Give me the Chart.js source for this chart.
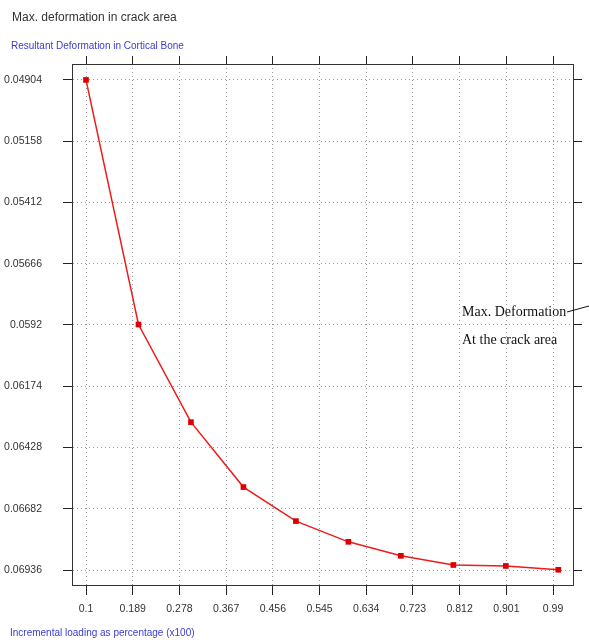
<!DOCTYPE html>
<html>
<head>
<meta charset="utf-8">
<script src="https://cdn.jsdelivr.net/npm/chart.js@4"></script>
<style>
  html, body { margin: 0; padding: 0; background: #fff; }
  #chart { display: block; }
</style>
</head>
<body>
<canvas id="chart" width="589" height="642"></canvas>
<script>
// loading steps (x) and max deformation in the crack area (y)
const loading = [0.1, 0.2, 0.3, 0.4, 0.5, 0.6, 0.7, 0.8, 0.9, 1.0];
const deformation = [0.04904, 0.05918, 0.06323, 0.06592, 0.06733, 0.06819, 0.06877, 0.06915, 0.06919, 0.06935];

// axis ticks as printed on the original
const xTicks = [0.1, 0.189, 0.278, 0.367, 0.456, 0.545, 0.634, 0.723, 0.812, 0.901, 0.99];
const xLabels = ["0.1", "0.189", "0.278", "0.367", "0.456", "0.545", "0.634", "0.723", "0.812", "0.901", "0.99"];
const yTicks = [0.04904, 0.05158, 0.05412, 0.05666, 0.0592, 0.06174, 0.06428, 0.06682, 0.06936];
const yLabels = ["0.04904", "0.05158", "0.05412", "0.05666", "0.0592", "0.06174", "0.06428", "0.06682", "0.06936"];

const narrow = '"Liberation Sans Narrow", "Arial Narrow", "Liberation Sans", Arial, sans-serif';

//force the same ticks on every axis
function setTicks(values) {
  return (scale) => {
    scale.ticks = values.map((v) => ({ value: v }));
  };
}

//fixed axis sizes so the plot box lands where the original has it
function fixWidth(w) {
  return (scale) => { scale.width = w; };
}
function fixHeight(h) {
  return (scale) => { scale.height = h; };
}

//titles and the annotation that sit outside the chart.js layout
const extraText = {
  id: "extraText",
  afterDraw(chart) {
    const ctx = chart.ctx;
    ctx.save();
    ctx.textBaseline = "middle";
    ctx.textAlign = "left";

    ctx.fillStyle = "#333";
    ctx.font = "12px " + narrow;
    ctx.fillText("Max. deformation in crack area", 12, 18);

    ctx.fillStyle = "#3b3bd6";
    ctx.font = "10px " + narrow;
    ctx.fillText("Resultant Deformation in Cortical Bone", 11, 46);
    ctx.fillText("Incremental loading as percentage (x100)", 10, 633);

    ctx.fillStyle = "#111";
    ctx.font = '14px "Liberation Serif", "Times New Roman", serif';
    ctx.fillText("Max. Deformation", 462, 312);
    ctx.fillText("At the crack area", 462, 340);

    ctx.strokeStyle = "#111";
    ctx.lineWidth = 1;
    ctx.beginPath();
    ctx.moveTo(567, 312);
    ctx.lineTo(589, 306);
    ctx.stroke();
    ctx.restore();
  },
};

const whiteBg = {
  id: "whiteBg",
  beforeDraw(chart) {
    const ctx = chart.ctx;
    ctx.save();
    ctx.fillStyle = "#fff";
    ctx.fillRect(0, 0, chart.width, chart.height);
    ctx.restore();
  },
};

const xRange = { min: 0.0733, max: 1.028 };
const yRange = { min: 0.04838, max: 0.06998 };

const ctx = document.getElementById("chart").getContext("2d");
const chart = new Chart(ctx, {
  type: "line",
  data: {
    datasets: [
      {
        label: "Max. deformation",
        data: loading.map((x, i) => ({ x: x, y: deformation[i] })),
        borderColor: "#ee1c1c",
        borderWidth: 1.5,
        pointStyle: "rect",
        pointRadius: 4,
        pointBackgroundColor: "#dd0000",
        pointBorderWidth: 0,
        tension: 0,
      },
    ],
  },
  options: {
    responsive: false,
    animation: false,
    layout: { padding: 0 },
    plugins: {
      legend: { display: false },
      tooltip: { enabled: false },
      title: { display: false },
    },
    scales: {
      x: {
        type: "linear",
        position: "bottom",
        min: xRange.min,
        max: xRange.max,
        afterBuildTicks: setTicks(xTicks),
        afterFit: fixHeight(57),
        ticks: {
          callback: (v, i) => xLabels[i],
          color: "#333",
          padding: 8,
          maxRotation: 0,
          autoSkip: false,
          font: { family: narrow, size: 10.5 },
        },
        grid: { color: "#9a9a9a", lineWidth: 1, tickColor: "#222", tickLength: 10 },
        border: { color: "#333", width: 1, dash: [1, 3] },
      },
      x2: {
        type: "linear",
        position: "top",
        min: xRange.min,
        max: xRange.max,
        afterBuildTicks: setTicks(xTicks),
        afterFit: fixHeight(64),
        ticks: { display: false },
        grid: { drawOnChartArea: false, tickColor: "#222", tickLength: 8 },
        border: { color: "#333", width: 1 },
      },
      y: {
        type: "linear",
        position: "left",
        reverse: true,
        min: yRange.min,
        max: yRange.max,
        afterBuildTicks: setTicks(yTicks),
        afterFit: fixWidth(72),
        ticks: {
          callback: (v, i) => yLabels[i],
          color: "#333",
          padding: 21,
          autoSkip: false,
          font: { family: narrow, size: 10.5 },
        },
        grid: { color: "#9a9a9a", lineWidth: 1, tickColor: "#222", tickLength: 9 },
        border: { color: "#333", width: 1, dash: [1, 3] },
      },
      y2: {
        type: "linear",
        position: "right",
        reverse: true,
        min: yRange.min,
        max: yRange.max,
        afterBuildTicks: setTicks(yTicks),
        afterFit: fixWidth(16),
        ticks: { display: false },
        grid: { drawOnChartArea: false, tickColor: "#222", tickLength: 9 },
        border: { color: "#333", width: 1 },
      },
    },
  },
  plugins: [whiteBg, extraText],
});
</script>
</body>
</html>
